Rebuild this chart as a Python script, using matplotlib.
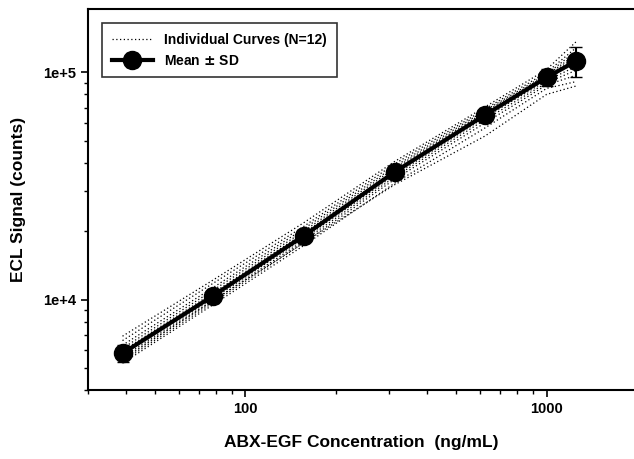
import numpy as np
import matplotlib
matplotlib.use('Agg')
import matplotlib.pyplot as plt

plt.rcParams['font.family'] = ['Liberation Sans', 'DejaVu Sans']
plt.rcParams['font.weight'] = 'bold'
plt.rcParams['axes.labelweight'] = 'bold'

# concentrations (ng/mL)
conc = [39.06, 78.13, 156.25, 312.5, 625, 1000, 1250]

# mean and SD of ECL signal (counts)
mean_sig = [5800, 10400, 19100, 36400, 65000, 95000, 112000]
sd_sig = [500, 700, 1100, 2200, 4500, 8000, 17000]

# 12 individual curves
curves = [
    [6900, 12200, 21800, 40500, 70500, 103000, 136000],
    [6600, 11800, 21000, 39500, 69000, 100000, 128000],
    [6300, 11300, 20500, 38500, 68000, 98000, 124000],
    [6100, 11000, 20000, 37800, 67000, 97000, 120000],
    [5950, 10700, 19600, 37000, 66000, 96000, 117000],
    [5800, 10500, 19200, 36500, 65500, 95000, 114000],
    [5700, 10300, 18900, 35900, 64500, 94000, 110000],
    [5600, 10100, 18600, 35300, 63500, 92000, 106000],
    [5450, 9900, 18200, 34600, 62000, 90000, 102000],
    [5350, 9700, 17800, 33800, 60000, 88000, 97000],
    [5250, 9500, 17300, 32500, 57000, 85000, 91000],
    [5500, 9900, 17800, 32000, 52500, 80000, 87000],
]

fig = plt.figure(figsize=(6.34, 4.59), dpi=100)
ax = fig.add_axes([88/634, 69/459, 546/634, 381/459])

for i, c in enumerate(curves):
    ax.plot(conc, c, color='black', linestyle=(0, (1, 2)), linewidth=0.9,
            label='Individual Curves (N=12)' if i == 0 else None)

ax.errorbar(conc, mean_sig, yerr=sd_sig, color='black', linewidth=3,
            marker='o', markersize=13, capsize=4, elinewidth=1.5,
            label='Mean $\\mathbf{\\pm}$ SD')

ax.set_xscale('log')
ax.set_yscale('log')
ax.set_xlim(30, 1950)
ax.set_ylim(4000, 190000)

ax.set_xticks([100, 1000])
ax.set_xticklabels(['100', '1000'])
ax.set_yticks([1e4, 1e5])
ax.set_yticklabels(['1e+4', '1e+5'])
ax.tick_params(which='both', direction='out', labelsize=10.5)
ax.tick_params(which='major', length=5, width=1.2)
ax.tick_params(which='minor', length=3, width=1)
ax.spines['right'].set_visible(False)
for s in ['left', 'bottom', 'top']:
    ax.spines[s].set_linewidth(1.5)

ax.set_xlabel('ABX-EGF Concentration  (ng/mL)', fontsize=12.5, labelpad=14)
ax.set_ylabel('ECL Signal (counts)', fontsize=12.5, labelpad=12)

leg = ax.legend(loc='upper left', fontsize=10, frameon=True, fancybox=False,
                edgecolor='black', handlelength=3, borderaxespad=1.0,
                labelspacing=0.5, borderpad=0.7)
leg.get_frame().set_linewidth(1.2)

fig.savefig('out.png', dpi=100)
